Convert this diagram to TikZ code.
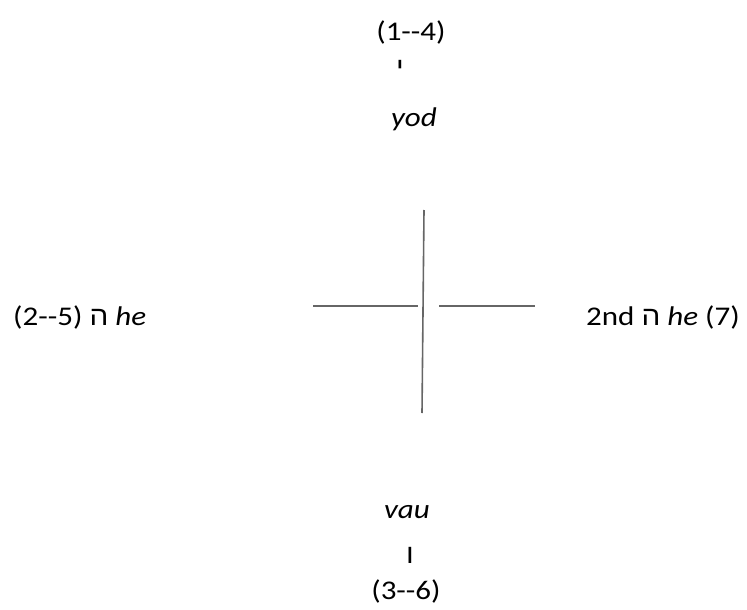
\documentclass[tikz,border=0pt]{standalone}
\usepackage{fontspec}
\setmainfont[Ligatures=NoCommon,FakeStretch=1.15]{Carlito}
\newfontfamily\hebfont[Script=Hebrew,FakeStretch=1.1]{Liberation Sans}
\TeXXeTstate=1
\newcommand{\dd}{{-}{-}}
\tikzset{
  lbl/.style={font=\fontsize{27}{32}\selectfont, inner sep=0pt, anchor=base},
  crossline/.style={draw=black!60, line width=1.6pt},
}
\begin{document}
\begin{tikzpicture}[x=1pt,y=-1pt]
\useasboundingbox (0,0) rectangle (747,610);
% top
\node[lbl] (n14) at (411,41) {(1\dd4)};
\node[lbl] (yodl) at (400,77) {\hebfont\beginR י\endR};
\node[lbl] (yodn) at (414,126) {\textit{yod}};
% left
\node[lbl, anchor=base west] (left) at (13,325) {(2\dd5) {\hebfont\beginR ה\endR} \textit{he}};
% right
\node[lbl, anchor=base east] (right) at (740,325) {2nd {\hebfont\beginR ה\endR} \textit{he} (7)};
% bottom
\node[lbl] (vaun) at (407,518) {\textit{vau}};
\node[lbl] (vavl) at (410,563) {\hebfont\beginR ו\endR};
\node[lbl] (n36) at (406,599) {(3\dd6)};
% cross
\coordinate (vt) at (424,210);
\coordinate (vb) at (422,413);
\coordinate (hl1) at (313,306);
\coordinate (hl2) at (418,306);
\coordinate (hr1) at (439,306);
\coordinate (hr2) at (535,306);
\draw[crossline] (vt) -- (vb);
\draw[crossline] (hl1) -- (hl2);
\draw[crossline] (hr1) -- (hr2);
\end{tikzpicture}
\end{document}
